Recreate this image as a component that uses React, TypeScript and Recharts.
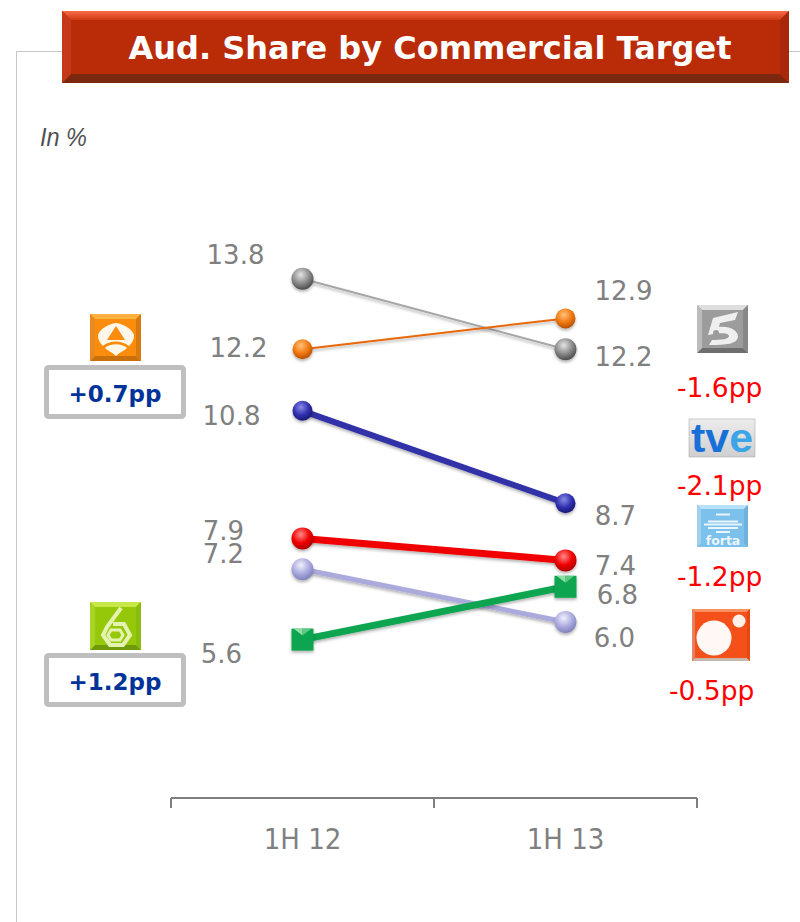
import { LineChart, Line, XAxis, YAxis, LabelList } from "recharts"

const categories = ["1H 12", "1H 13"]
const telecinco = [13.8, 12.2]
const antena3 = [12.2, 12.9]
const tve = [10.8, 8.7]
const forta = [7.9, 7.4]
const cuatro = [7.2, 6.0]
const laSexta = [5.6, 6.8]
const antena3Change = "+0.7pp"
const laSextaChange = "+1.2pp"
const telecincoChange = "-1.6pp"
const tveChange = "-2.1pp"
const fortaChange = "-1.2pp"
const cuatroChange = "-0.5pp"

const data = categories.map((name, i) => ({
  name,
  telecinco: telecinco[i],
  antena3: antena3[i],
  tve: tve[i],
  forta: forta[i],
  cuatro: cuatro[i],
  laSexta: laSexta[i],
}))

const WIDTH = 800
const HEIGHT = 922
const margin = { top: 94, right: 103, bottom: 94, left: 171 }
const halfBand = (WIDTH - margin.left - margin.right) / categories.length / 2
const FONT = "'DejaVu Sans', Verdana, sans-serif"

// label offsets from each point, one [dx, dy] per category
const series = [
  { key: "telecinco", color: "#a6a6a6", width: 2, r: 11, ball: "grayBall", offsets: [[-67, -24], [58, 7]] },
  { key: "antena3", color: "#e8670c", width: 2, r: 10, ball: "orangeBall", offsets: [[-64, -2], [58, -28]] },
  { key: "tve", color: "#3030a8", width: 6, r: 10, ball: "blueBall", offsets: [[-71, 5], [50, 12]] },
  { key: "cuatro", color: "#aaaadc", width: 5, r: 11, ball: "lavenderBall", offsets: [[-79, -16], [49, 15]] },
  { key: "laSexta", color: "#0aa550", width: 7, r: 11, ball: "", offsets: [[-81, 14], [52, 8]] },
  { key: "forta", color: "#f00000", width: 7, r: 11, ball: "redBall", offsets: [[-79, -8], [50, 5]] },
]

const balls = [
  ["grayBall", "#e4e4e4", "#8a8a8a", "#444444"],
  ["orangeBall", "#ffc27a", "#f07810", "#b04c00"],
  ["blueBall", "#8a8ae6", "#3030b0", "#16166e"],
  ["lavenderBall", "#f0f0fc", "#aaaadf", "#7c7cb8"],
  ["redBall", "#ff8a8a", "#f00000", "#a80000"],
]

function BevelBox({ x, y, w, h, b, main, top, bottom, left, right }: any) {
  return (
    <g>
      <rect x={x} y={y} width={w} height={h} fill={main} />
      <polygon points={`${x},${y} ${x + w},${y} ${x + w - b},${y + b} ${x + b},${y + b}`} fill={top} />
      <polygon points={`${x},${y + h} ${x + w},${y + h} ${x + w - b},${y + h - b} ${x + b},${y + h - b}`} fill={bottom} />
      <polygon points={`${x},${y} ${x + b},${y + b} ${x + b},${y + h - b} ${x},${y + h}`} fill={left} />
      <polygon points={`${x + w},${y} ${x + w - b},${y + b} ${x + w - b},${y + h - b} ${x + w},${y + h}`} fill={right} />
    </g>
  )
}

function ChangeBox({ y, text }: { y: number; text: string }) {
  return (
    <g>
      <rect x={46.5} y={y + 2.5} width={137} height={49} rx={2} fill="#fff" stroke="#bfbfbf" strokeWidth={5} />
      <text x={115} y={y + 37} textAnchor="middle" fontFamily={FONT} fontWeight="bold" fontSize={23} fill="#003399">
        {text}
      </text>
    </g>
  )
}

function RedText({ x, y, text }: { x: number; y: number; text: string }) {
  return (
    <text x={x} y={y} fontFamily={FONT} fontSize={26.5} fill="#ff0000">
      {text}
    </text>
  )
}

function Backdrop() {
  return (
    <svg width={WIDTH} height={HEIGHT} style={{ position: "absolute", left: 0, top: 0 }}>
      <defs>
        <linearGradient id="titleTop" x1="0" y1="0" x2="0" y2="1">
          <stop offset="0" stopColor="#f86a48" />
          <stop offset="1" stopColor="#cf3c14" />
        </linearGradient>
        <linearGradient id="tveBg" x1="0" y1="0" x2="0" y2="1">
          <stop offset="0" stopColor="#ececec" />
          <stop offset="1" stopColor="#cfcfcf" />
        </linearGradient>
      </defs>

      <path d="M16.5 922 V51.5 H62 M789 51.5 H800" fill="none" stroke="#c6c6c6" strokeWidth={1} />

      <BevelBox x={62} y={11} w={727} h={72} b={9} main="#ba2b08" top="url(#titleTop)" bottom="#7c2810" left="#c4391a" right="#a8280a" />
      <text x={430} y={59} textAnchor="middle" fontFamily={FONT} fontWeight="bold" fontSize={32} fill="#fff">
        Aud. Share by Commercial Target
      </text>

      <text x={40} y={146} fontFamily="'Liberation Sans', Arial, sans-serif" fontStyle="italic" fontSize={26} textLength={47} lengthAdjust="spacingAndGlyphs" fill="#505050">
        In %
      </text>

      {/* Antena 3 */}
      <BevelBox x={90} y={314} w={51} h={47} b={5} main="#fb8c0c" top="#ffb040" bottom="#c8700c" left="#e88a20" right="#d87a10" />
      <path d="M116 323 C108 324 100 329 98 335 C98 340 100 343 103 346 C109 340 122 340 129 346 C132 343 134 340 134 335 C132 329 124 324 116 323 Z" fill="#fff6ea" />
      <polygon points="116,326 125,340 107,340" fill="#fb8c0c" />
      <path d="M105 348 C110 343 122 343 127 348 C124 351 120 352 116 356 C112 352 108 351 105 348 Z" fill="#fff6ea" />
      <ChangeBox y={365} text={antena3Change} />

      {/* La Sexta */}
      <BevelBox x={90} y={602} w={51} h={48} b={5} main="#96c80a" top="#c8e84a" bottom="#6e9a08" left="#a8d428" right="#8abc10" />
      <path d="M121 608 L107 627 L103 635 L110 645 L123 645 L130 635 L124 624 L113 624" fill="none" stroke="#e6f2b0" strokeWidth={4} />
      <path d="M111 630 L120 630 L123 635 L120 640 L111 640 L108 635 Z" fill="none" stroke="#e6f2b0" strokeWidth={3} />
      <ChangeBox y={653} text={laSextaChange} />

      {/* Telecinco */}
      <BevelBox x={697} y={305} w={51} h={48} b={5} main="#9c9c9c" top="#dedede" bottom="#6e6e6e" left="#bcbcbc" right="#888888" />
      <path d="M713 318 L738 312 L735 320 L720 323 L719 327 C731 326 738 331 738 337 C737 344 727 345 709 345 L712 340 C722 340 729 339 729 336 C729 333 722 332 708 335 Z" fill="#efefef" />
      <circle cx={716} cy={333} r={3} fill="#9c9c9c" />
      <RedText x={677} y={397} text={telecincoChange} />

      {/* TVE */}
      <rect x={689} y={419} width={66} height={38} fill="url(#tveBg)" stroke="#a0a0a0" strokeWidth={0.5} />
      <text x={722} y={452} textAnchor="middle" fontFamily="'Liberation Sans', Arial, sans-serif" fontWeight="bold" fontSize={40} textLength={62} lengthAdjust="spacingAndGlyphs">
        <tspan fill="#1670d8">tv</tspan>
        <tspan fill="#3ea4e8">e</tspan>
      </text>
      <RedText x={677} y={495} text={tveChange} />

      {/* Forta */}
      <BevelBox x={697} y={505} w={51} h={42} b={4} main="#7cc0ec" top="#b8e2fa" bottom="#7cc0ec" left="#a0d0ee" right="#70b0dc" />
      <path d="M716 514.5 H730 M708 521.5 H738 M704 524.5 H742 M708 528 H738 M716 532 H730" stroke="#eaf6fd" strokeWidth={2} />
      <text x={723} y={545} textAnchor="middle" fontFamily={FONT} fontWeight="bold" fontSize={12.5} fill="#eaf6fd">
        forta
      </text>
      <RedText x={677} y={586} text={fortaChange} />

      {/* Cuatro */}
      <BevelBox x={692} y={609} w={58} h={52} b={3} main="#f4511a" top="#f89060" bottom="#c8b8ac" left="#e88060" right="#e84810" />
      <circle cx={714} cy={638} r={17.5} fill="#fff8f4" />
      <circle cx={739} cy={621} r={6.5} fill="#fff0e8" />
      <RedText x={669} y={700} text={cuatroChange} />
    </svg>
  )
}

function AxisTick({ x, y, payload, index }: any) {
  const top = y - 8
  return (
    <g>
      <line x1={x - halfBand} x2={x - halfBand} y1={top} y2={top + 10} stroke="#7f7f7f" strokeWidth={2} />
      {index === categories.length - 1 && (
        <line x1={x + halfBand} x2={x + halfBand} y1={top} y2={top + 10} stroke="#7f7f7f" strokeWidth={2} />
      )}
      <text x={x} y={top + 51} textAnchor="middle" fontFamily="'DejaVu Sans Condensed', 'DejaVu Sans', sans-serif" style={{ fontStretch: "condensed" }} fontSize={29} fill="#808080">
        {payload.value}
      </text>
    </g>
  )
}

function makeDot(s: (typeof series)[number]) {
  return (props: any) => {
    const { cx, cy, index } = props
    if (!s.ball) {
      return (
        <g key={index} filter="url(#markShadow)">
          <rect x={cx - s.r} y={cy - s.r} width={s.r * 2} height={s.r * 2} fill="#0aa550" />
          <polygon points={`${cx - s.r + 2},${cy - s.r} ${cx},${cy - s.r} ${cx},${cy - 4}`} fill="#8fe0a8" />
          <polygon points={`${cx + s.r - 2},${cy - s.r} ${cx},${cy - s.r} ${cx},${cy - 4}`} fill="#5fc884" />
        </g>
      )
    }
    return <circle key={index} cx={cx} cy={cy} r={s.r} fill={`url(#${s.ball})`} filter="url(#markShadow)" />
  }
}

function makeLabel(s: (typeof series)[number]) {
  return (props: any) => {
    const { x, y, value, index } = props
    const [dx, dy] = s.offsets[index]
    return (
      <text x={x + dx} y={y + dy + 9.5} textAnchor="middle" fontFamily={FONT} fontSize={26} fill="#808080">
        {Number(value).toFixed(1)}
      </text>
    )
  }
}

export default function App() {
  return (
    <div style={{ position: "absolute", left: 0, top: 0, width: WIDTH, height: HEIGHT, background: "#fff", overflow: "hidden" }}>
      <Backdrop />
      <div style={{ position: "absolute", left: 0, top: 0 }}>
        <LineChart width={WIDTH} height={HEIGHT} data={data} margin={margin}>
          <defs>
            {balls.map(([id, light, mid, dark]) => (
              <radialGradient key={id} id={id} cx="0.42" cy="0.32" r="0.72">
                <stop offset="0" stopColor={light} />
                <stop offset="0.55" stopColor={mid} />
                <stop offset="1" stopColor={dark} />
              </radialGradient>
            ))}
            <filter id="markShadow" x="-40%" y="-40%" width="180%" height="180%">
              <feDropShadow dx="0" dy="2" stdDeviation="1.5" floodColor="#000" floodOpacity="0.3" />
            </filter>
          </defs>
          <YAxis hide domain={[2, 18]} />
          <XAxis
            dataKey="name"
            scale="band"
            axisLine={{ stroke: "#7f7f7f", strokeWidth: 2 }}
            tickLine={false}
            tick={AxisTick}
            interval={0}
          />
          {series.map((s) => (
            <Line
              key={s.key}
              dataKey={s.key}
              type="linear"
              stroke={s.color}
              strokeWidth={s.width}
              filter="url(#markShadow)"
              dot={makeDot(s)}
              activeDot={false}
              isAnimationActive={false}
            >
              <LabelList dataKey={s.key} content={makeLabel(s)} />
            </Line>
          ))}
        </LineChart>
      </div>
    </div>
  )
}
